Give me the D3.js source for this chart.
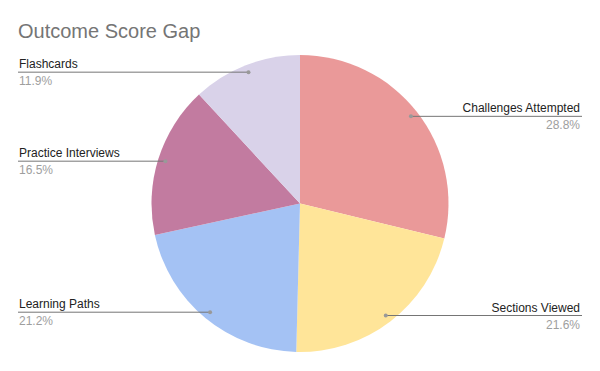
<!DOCTYPE html>
<html><head><meta charset="utf-8">
<script src="https://cdn.jsdelivr.net/npm/d3@7"></script>
<style>body{margin:0;background:#fff}svg{display:block}</style>
</head><body><svg id="c" width="600" height="371"></svg>
<script>
const categories = ["Challenges Attempted","Sections Viewed","Learning Paths","Practice Interviews","Flashcards"];
const values = [28.8, 21.6, 21.2, 16.5, 11.9];
const colors = ["#EA9999","#FFE599","#A4C2F4","#C27BA0","#D9D2E9"];
const title = "Outcome Score Gap";

const svg = d3.select("#c");
const W = 600, cx = 300, cy = 203.5, r = 148.5;
svg.append("rect").attr("width",W).attr("height",371).attr("fill","#fff");
svg.append("text").attr("x",18).attr("y",38).text(title)
  .attr("font-family","'Liberation Sans',Arial,sans-serif").attr("font-size",20).attr("fill","#757575");

const data = categories.map((c,i)=>({name:c, value:values[i], color:colors[i]}));
const pie = d3.pie().value(d=>d.value).sort(null);
const arcs = pie(data);
const arc = d3.arc().innerRadius(0).outerRadius(r);
const g = svg.append("g").attr("transform",`translate(${cx},${cy})`);
g.selectAll("path").data(arcs).join("path").attr("d",arc).attr("fill",d=>d.data.color);

const labelArc = d3.arc().innerRadius(r*0.95).outerRadius(r*0.95);
const font = "'Liberation Sans',Arial,sans-serif";
arcs.forEach(a=>{
  const [px,py] = labelArc.centroid(a);
  const x = cx+px, y = cy+py;
  const right = x > cx;
  const xe = right ? 582 : 18;
  svg.append("line").attr("x1",x).attr("y1",y).attr("x2",xe).attr("y2",y)
    .attr("stroke","#757575").attr("stroke-width",1);
  svg.append("circle").attr("cx",x).attr("cy",y).attr("r",2).attr("fill","#999");
  const anchor = right ? "end" : "start";
  const tx = right ? 580 : 19;
  svg.append("text").attr("x",tx).attr("y",y-4).attr("text-anchor",anchor)
    .attr("font-family",font).attr("font-size",12).attr("fill","#222").text(a.data.name);
  svg.append("text").attr("x",tx).attr("y",y+13).attr("text-anchor",anchor)
    .attr("font-family",font).attr("font-size",12).attr("fill","#9e9e9e").text(a.data.value.toFixed(1)+"%");
});
</script></body></html>
